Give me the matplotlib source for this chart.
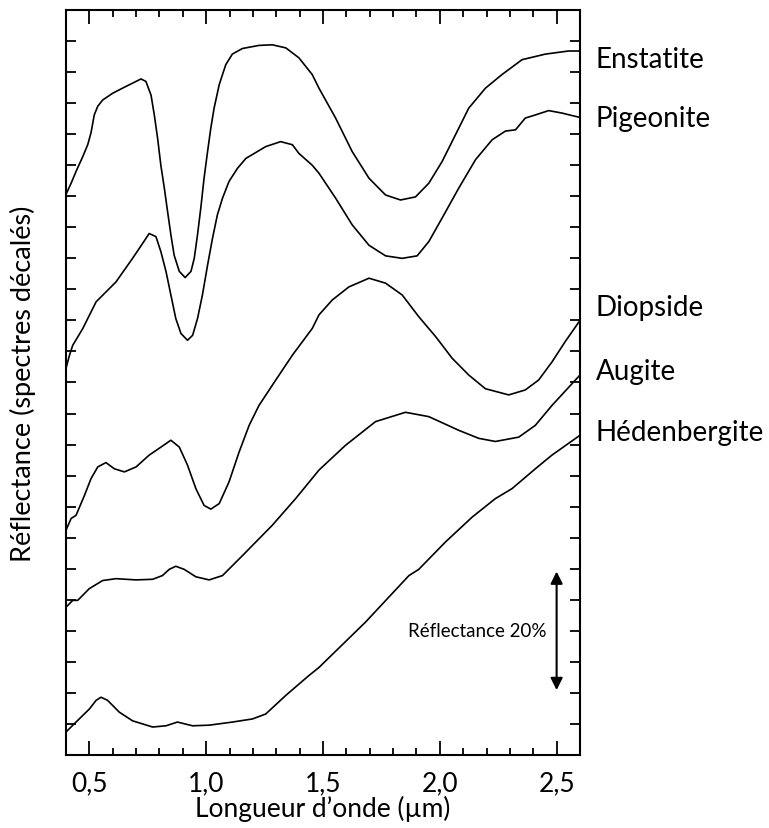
import matplotlib
matplotlib.use("Agg")
import matplotlib.pyplot as plt
from matplotlib.ticker import MultipleLocator

plt.rcParams['font.family'] = ['Lato', 'DejaVu Sans']

# spectres (longueur d'onde en µm, réflectance décalée en %)
x_enst = [0.400, 0.422, 0.443, 0.472, 0.493, 0.507, 0.521, 0.536, 0.557, 0.600, 0.657, 0.700,
          0.721, 0.742, 0.764, 0.778, 0.792, 0.806, 0.821, 0.835, 0.849, 0.863, 0.885, 0.910,
          0.935, 0.949, 0.963, 0.977, 0.991, 1.006, 1.020, 1.034, 1.056, 1.084, 1.112, 1.155,
          1.226, 1.283, 1.341, 1.397, 1.454, 1.483, 1.554, 1.625, 1.697, 1.768, 1.832, 1.896,
          1.953, 2.010, 2.067, 2.124, 2.195, 2.266, 2.352, 2.452, 2.551, 2.600]
y_enst = [90.3, 92.1, 94.0, 96.4, 98.3, 100.2, 103.1, 104.5, 105.5, 106.6, 107.7, 108.5,
          108.9, 108.5, 106.3, 103.1, 99.4, 95.0, 91.3, 87.5, 83.8, 80.5, 77.9, 76.9,
          77.9, 80.0, 83.8, 88.1, 92.9, 97.2, 101.0, 104.2, 108.0, 111.2, 112.9, 113.8,
          114.3, 114.4, 113.9, 112.3, 109.6, 107.4, 102.6, 97.2, 92.9, 90.2, 89.4, 89.9,
          92.1, 95.6, 99.9, 104.2, 107.4, 109.6, 112.0, 112.9, 113.4, 113.4]

x_pig = [0.400, 0.415, 0.429, 0.472, 0.529, 0.614, 0.685, 0.728, 0.756, 0.785, 0.806, 0.828,
         0.849, 0.870, 0.892, 0.920, 0.942, 0.963, 0.984, 1.006, 1.027, 1.048, 1.070, 1.098,
         1.134, 1.170, 1.255, 1.319, 1.369, 1.397, 1.454, 1.483, 1.554, 1.625, 1.697, 1.768,
         1.839, 1.903, 1.953, 2.010, 2.081, 2.153, 2.224, 2.281, 2.324, 2.366, 2.409, 2.466,
         2.523, 2.566, 2.600]
y_pig = [62.3, 64.4, 66.0, 68.7, 73.0, 76.2, 80.0, 82.4, 84.0, 83.5, 81.1, 77.9,
         74.1, 70.3, 67.9, 66.8, 67.6, 70.3, 74.1, 78.9, 83.2, 87.0, 89.7, 92.4,
         94.5, 96.1, 98.0, 98.8, 98.3, 96.9, 95.0, 93.7, 89.7, 85.4, 82.1, 80.4,
         80.0, 80.4, 82.7, 86.5, 91.3, 95.9, 99.1, 100.5, 100.7, 102.6, 103.1, 103.8,
         103.4, 103.0, 102.7]

x_diop = [0.400, 0.422, 0.443, 0.479, 0.507, 0.536, 0.571, 0.607, 0.650, 0.700, 0.756, 0.799,
          0.849, 0.885, 0.920, 0.956, 0.991, 1.020, 1.056, 1.098, 1.141, 1.184, 1.226, 1.298,
          1.369, 1.454, 1.483, 1.540, 1.611, 1.697, 1.768, 1.839, 1.910, 1.982, 2.053, 2.124,
          2.195, 2.295, 2.366, 2.423, 2.480, 2.537, 2.600]
y_diop = [36.2, 38.1, 38.6, 41.8, 44.5, 46.4, 47.1, 46.1, 45.6, 46.4, 48.3, 49.4,
          50.7, 49.6, 46.7, 42.9, 40.2, 39.6, 40.5, 44.0, 48.8, 53.1, 56.3, 60.4,
          64.4, 68.7, 70.9, 73.3, 75.4, 76.8, 76.0, 74.1, 70.6, 67.4, 63.9, 61.2,
          59.0, 58.0, 58.8, 60.4, 63.3, 66.6, 70.0]

x_aug = [0.400, 0.429, 0.450, 0.500, 0.557, 0.614, 0.700, 0.771, 0.813, 0.842, 0.870, 0.906,
         0.956, 1.013, 1.070, 1.155, 1.283, 1.383, 1.483, 1.597, 1.725, 1.853, 1.953, 2.081,
         2.167, 2.238, 2.338, 2.409, 2.480, 2.600]
y_aug = [23.8, 24.9, 24.9, 26.8, 28.1, 28.4, 28.2, 28.3, 28.9, 29.9, 30.4, 29.9,
         28.7, 28.2, 28.9, 32.1, 37.0, 41.3, 45.9, 49.9, 53.7, 55.2, 54.5, 52.3,
         51.0, 50.5, 51.2, 53.1, 56.3, 61.2]

x_hed = [0.400, 0.443, 0.500, 0.529, 0.550, 0.578, 0.628, 0.685, 0.771, 0.828, 0.877, 0.942,
         1.013, 1.112, 1.198, 1.255, 1.341, 1.440, 1.483, 1.682, 1.868, 1.910, 2.024, 2.138,
         2.238, 2.309, 2.409, 2.480, 2.600]
y_hed = [3.7, 5.3, 7.4, 8.8, 9.3, 8.8, 6.9, 5.5, 4.5, 4.7, 5.3, 4.7,
         4.8, 5.3, 5.8, 6.6, 9.6, 12.8, 14.1, 21.4, 28.9, 29.9, 34.3, 38.3,
         41.3, 42.9, 46.1, 48.3, 51.5]

noms = ['Enstatite', 'Pigeonite', 'Diopside', 'Augite', 'Hédenbergite']
y_noms = [110.8, 101.3, 70.8, 60.6, 50.8]

fig = plt.figure(figsize=(7.69, 8.29), dpi=100)
ax = fig.add_axes([0.0858, 0.0881, 0.6684, 0.8986])

for xs, ys in [(x_enst, y_enst), (x_pig, y_pig), (x_diop, y_diop), (x_aug, y_aug), (x_hed, y_hed)]:
    ax.plot(xs, ys, color='black', lw=1.2, solid_joinstyle='round')

for nom, yn in zip(noms, y_noms):
    ax.text(2.667, yn, nom, fontsize=20, va='baseline', ha='left', clip_on=False)

# échelle de réflectance
ax.annotate('', xy=(2.5, 10), xytext=(2.5, 30),
            arrowprops=dict(arrowstyle='<|-|>', color='black', lw=1.5, mutation_scale=18))
ax.text(2.458, 20, 'Réflectance 20%', fontsize=13.5, ha='right', va='center')

ax.set_xlim(0.4, 2.6)
ax.set_ylim(0, 120)
ax.xaxis.set_minor_locator(MultipleLocator(0.1))
ax.set_xticks([0.5, 1.0, 1.5, 2.0, 2.5])
ax.set_xticklabels(['0,5', '1,0', '1,5', '2,0', '2,5'], fontsize=19)
ax.yaxis.set_major_locator(MultipleLocator(5))
ax.set_yticklabels([])
ax.tick_params(axis='x', which='major', direction='in', length=10, width=1.3, top=True, pad=11)
ax.tick_params(axis='x', which='minor', direction='in', length=5, width=1.3, top=True)
ax.tick_params(axis='y', which='major', direction='in', length=7, width=1.3, right=True)
for s in ax.spines.values():
    s.set_linewidth(1.5)

ax.set_xlabel('Longueur d’onde (µm)', fontsize=19, labelpad=0)
ax.set_ylabel('Réflectance (spectres décalés)', fontsize=19.5, labelpad=18)

plt.savefig('out.png', dpi=100)
